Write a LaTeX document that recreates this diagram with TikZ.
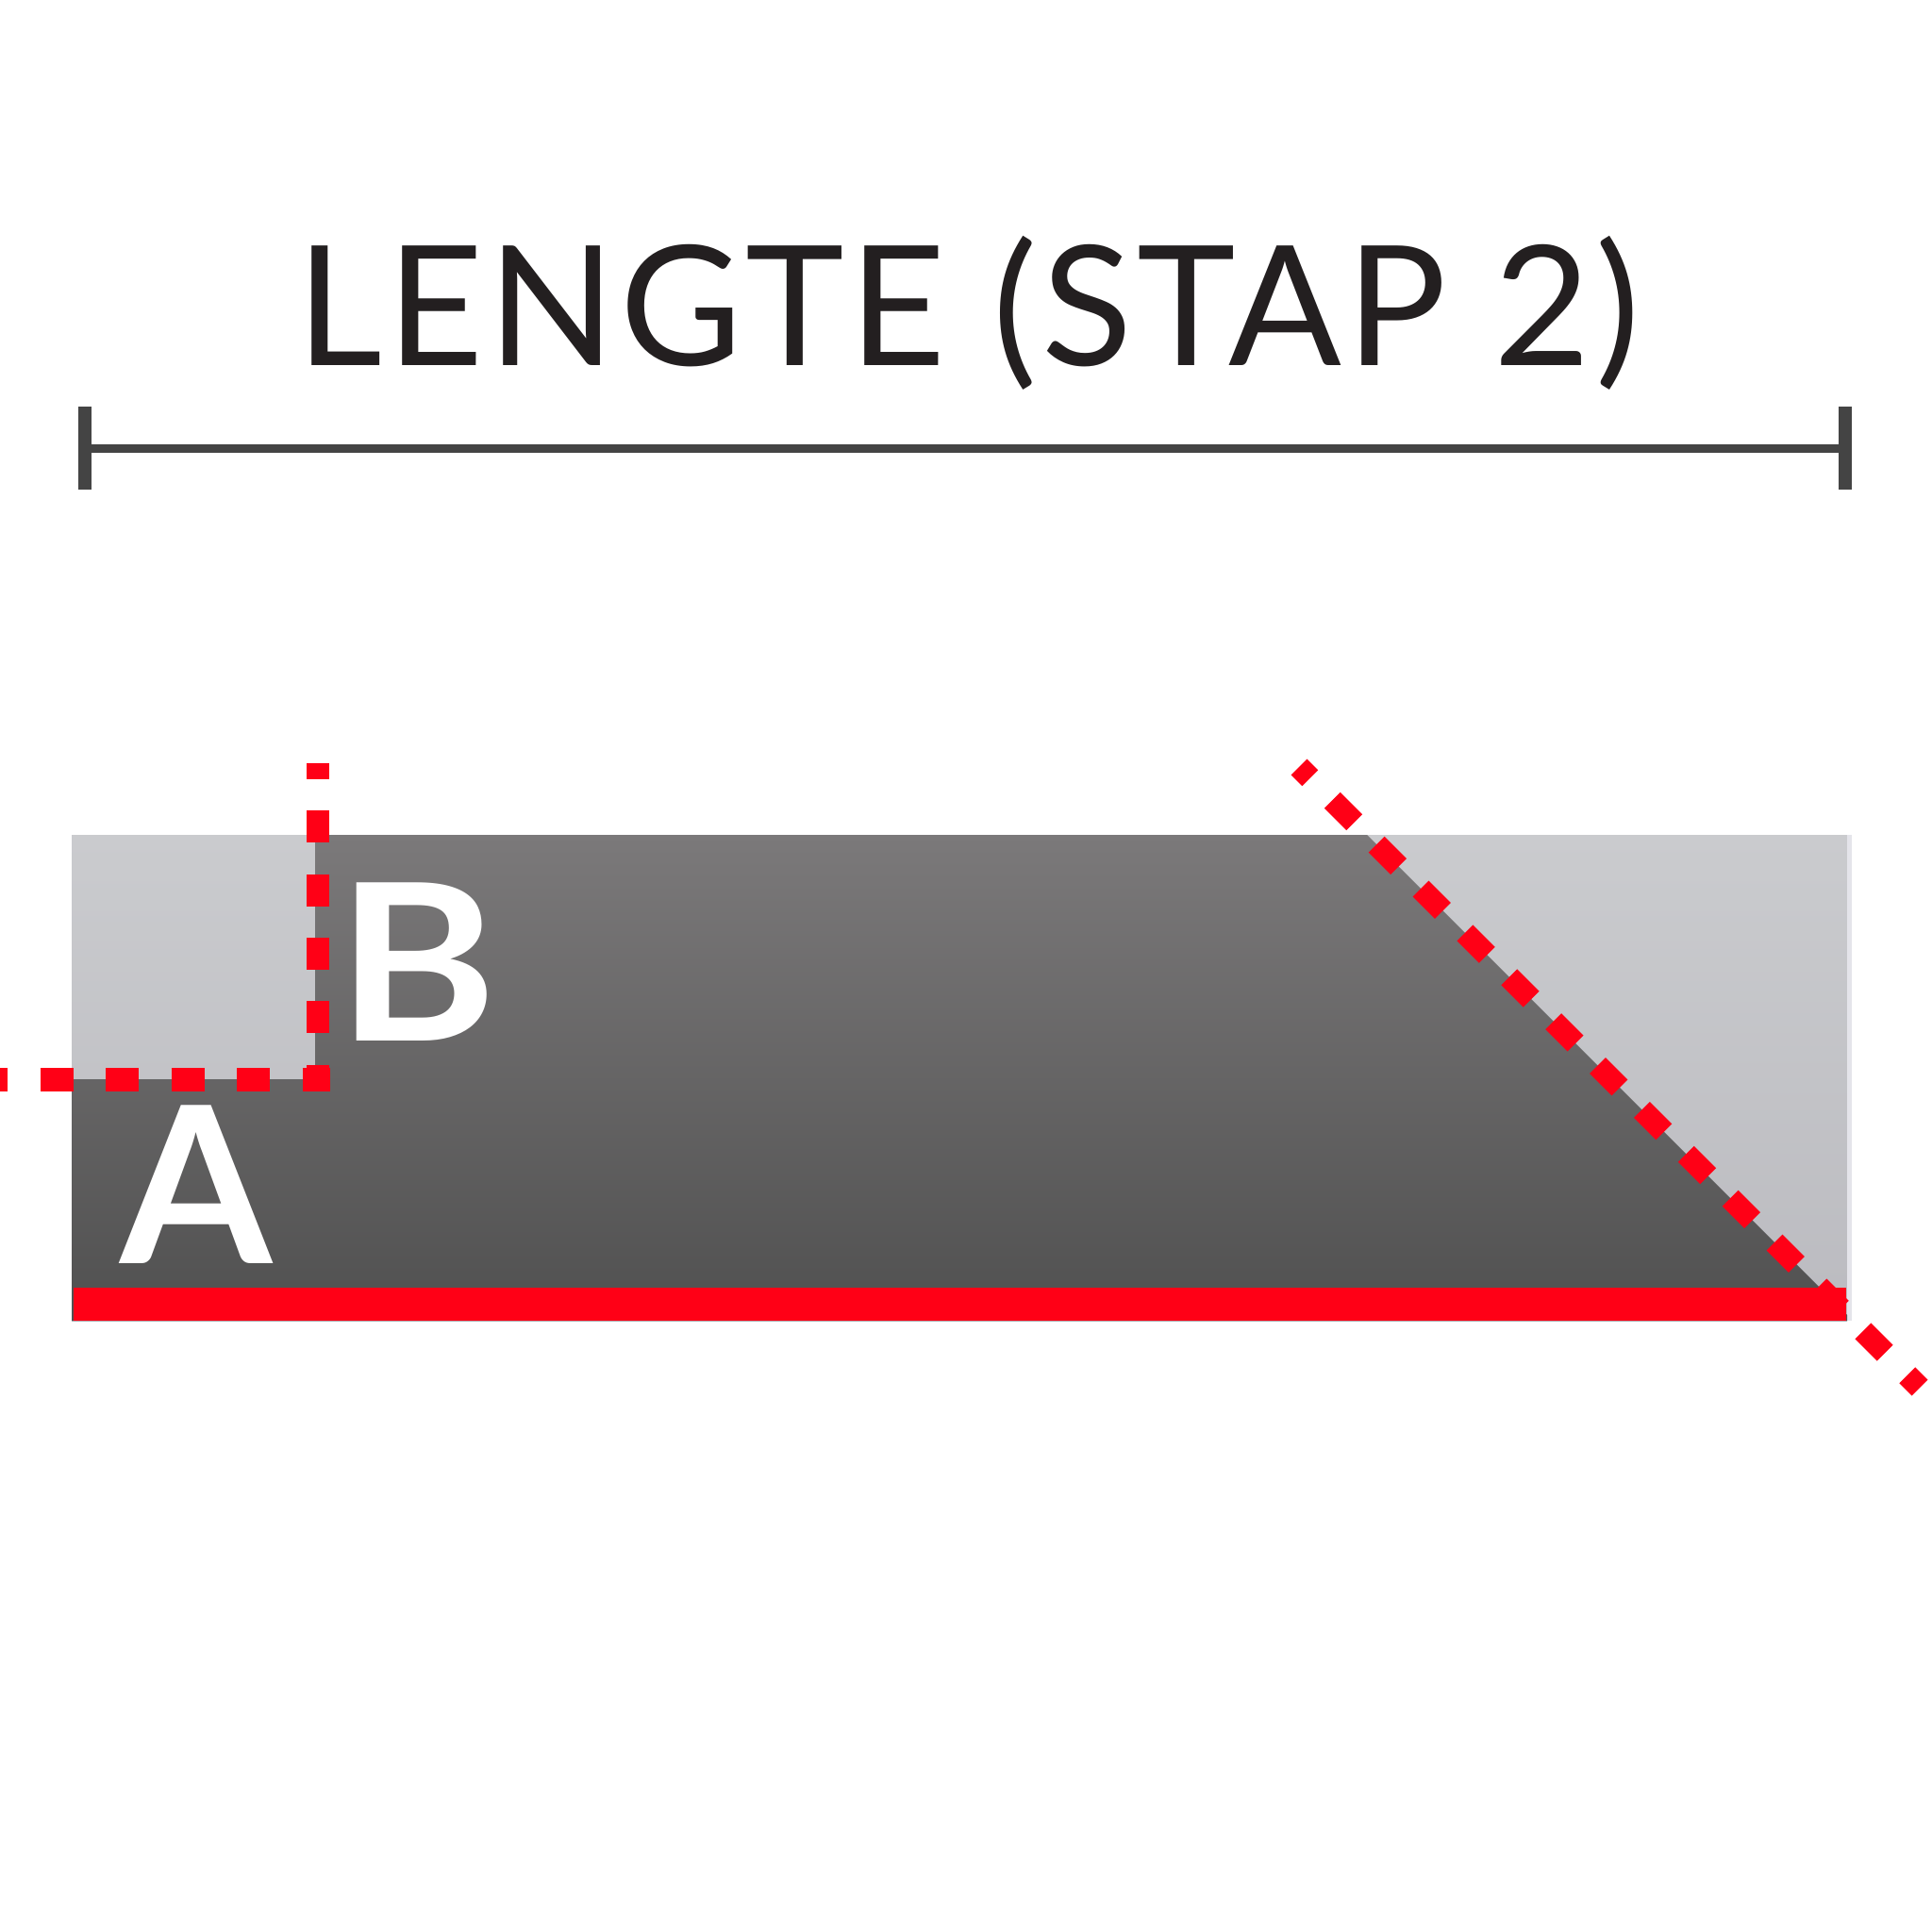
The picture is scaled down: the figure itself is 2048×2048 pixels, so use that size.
\documentclass[tikz,border=0pt]{standalone}
\usepackage{fontspec}
\setmainfont{Lato}
\definecolor{redline}{RGB}{255,0,22}
\definecolor{dimgray}{HTML}{444444}
\definecolor{titlecol}{HTML}{231F20}
\definecolor{darktop}{HTML}{7B797A}
\definecolor{darkbot}{HTML}{505050}
\definecolor{lighttop}{HTML}{CACBCE}
\definecolor{lightbot}{HTML}{BBBBC0}
\definecolor{edgecol}{HTML}{E4E4EA}
\tikzset{
  dimline/.style={draw=dimgray, line width=9pt},
  dimtick/.style={draw=dimgray, line width=14pt},
  reddash/.style={draw=redline, line width=24pt},
  bigletter/.style={text=white, inner sep=0pt, font=\fontsize{232}{250}\selectfont\bfseries},
}
\begin{document}
\begin{tikzpicture}[x=1pt,y=-1pt]
\useasboundingbox (0,0) rectangle (2048,2048);
% title
\node[inner sep=0pt, anchor=base, text=titlecol, font=\fontsize{177}{200}\selectfont\addfontfeature{LetterSpace=2.7}] (title) at (1026,387) {LENGTE (STAP 2)};
% dimension line
\coordinate (dimL) at (83,475.5);
\coordinate (dimR) at (1963,475.5);
\draw[dimline] (dimL) -- (dimR);
\draw[dimtick] (90,431) -- (90,519);
\draw[dimtick] (1956,431) -- (1956,519);
% board
\fill[top color=lighttop, bottom color=lightbot] (76,885) rectangle (1958,1400);
\fill[edgecol] (1958,885) rectangle (1963,1400);
\shade[top color=darktop, bottom color=darkbot] (334,885) -- (1449,885) -- (1958,1394) -- (1958,1400) -- (76,1400) -- (76,1144) -- (334,1144) -- cycle;
\fill[redline] (78,1365) rectangle (1957,1400);
% letters
\node[bigletter, anchor=base] (labelA) at (208.5,1339) {A};
\node[bigletter, anchor=base, xscale=1.11, transform shape] (labelB) at (442,1103) {B};
% dashed cut lines
\draw[reddash, line width=25pt, dash pattern=on 35pt off 34.5pt, dash phase=27pt] (0,1144.5) -- (350,1144.5);
\draw[reddash, dash pattern=on 34pt off 33.3pt, dash phase=17pt] (337,809) -- (337,1157);
\draw[reddash, dash pattern=on 33pt off 33.3pt, dash phase=16.4pt] (1377,813) -- (2035,1471);
\end{tikzpicture}
\end{document}
